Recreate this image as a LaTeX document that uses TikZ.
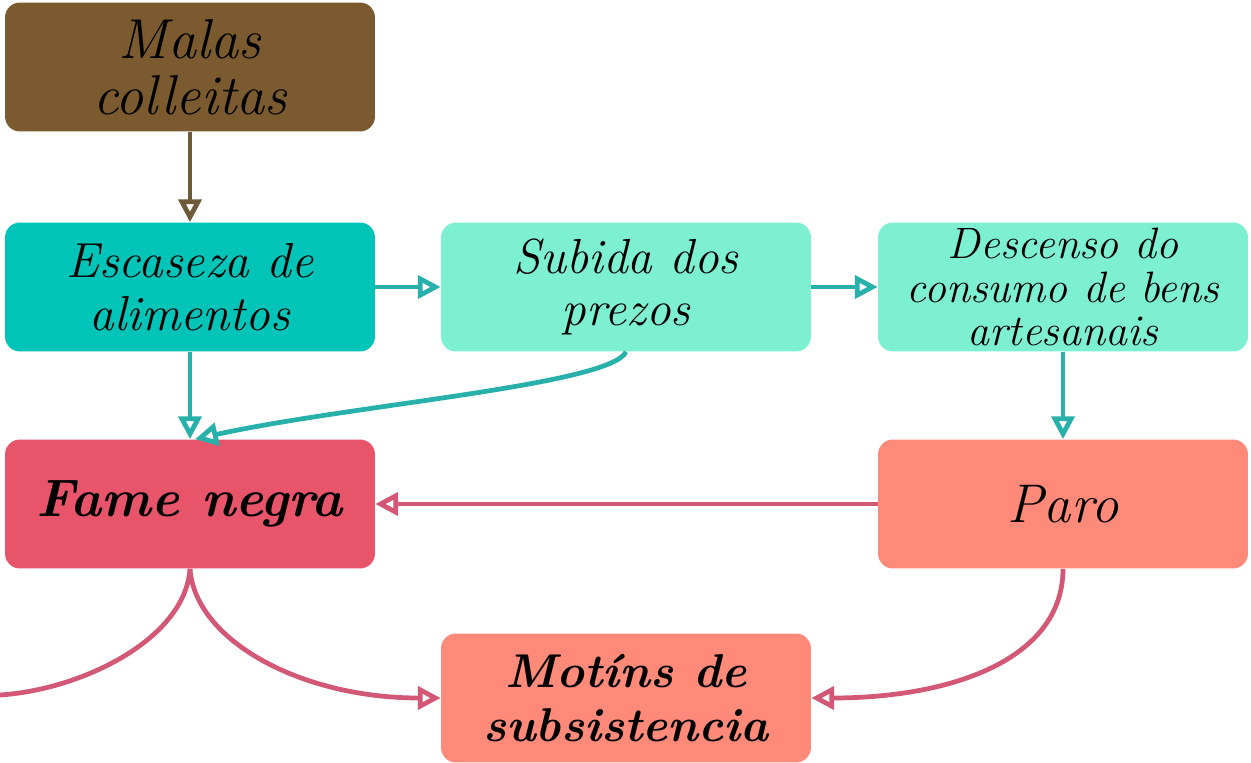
\documentclass[tikz,border=0pt]{standalone}
\usetikzlibrary{arrows.meta}
\definecolor{brownbox}{RGB}{123,90,48}
\definecolor{tealbox}{RGB}{0,196,184}
\definecolor{aquabox}{RGB}{125,240,210}
\definecolor{redbox}{RGB}{232,84,106}
\definecolor{salmonbox}{RGB}{255,138,122}
\definecolor{tealline}{RGB}{40,176,170}
\definecolor{roseline}{RGB}{210,88,118}
\definecolor{brownline}{RGB}{110,90,58}
\tikzset{>={Triangle[open,length=13pt,width=13pt]}}
\tikzset{%
    card/.style={%
        rounded corners=0.3cm,
        minimum width=7.4cm, minimum height=2.58cm,
        align=center, inner sep=0pt,
        font=\itshape\fontsize{28}{30}\selectfont
    },
    boldcard/.style={card, font=\bfseries\itshape\fontsize{28}{32}\selectfont},
    link/.style={->, line width=2.7pt}
}

\begin{document}
\begin{tikzpicture}[x=0.02cm,y=-0.02cm]
\useasboundingbox (0,0) rectangle (1251,763);

\node[card,fill=brownbox,font=\itshape\fontsize{32}{32}\selectfont] (malas) at (190,67) {Malas\\colleitas};
\node[card,fill=tealbox] (escaseza) at (190,287) {Escaseza de\\alimentos};
\node[card,fill=aquabox] (subida) at (626,287) {Subida dos\\prezos};
\node[card,fill=aquabox,font=\itshape\fontsize{25}{24.5}\selectfont] (descenso) at (1063,287) {Descenso do\\consumo de bens\\artesanais};
\node[boldcard,fill=redbox,font=\bfseries\itshape\fontsize{30}{32}\selectfont] (fame) at (190,504) {Fame negra};
\node[card,fill=salmonbox,font=\itshape\fontsize{31}{32}\selectfont] (paro) at (1063,504) {Paro};
\node[boldcard,fill=salmonbox,font=\bfseries\itshape\fontsize{27}{31}\selectfont] (motins) at (626,698) {Motíns de\\subsistencia};

\coordinate (offleft) at (0,695);

\draw[link,brownline] (malas) -- (escaseza);
\draw[link,tealline] (escaseza) -- (subida);
\draw[link,tealline] (subida) -- (descenso);
\draw[link,tealline] (escaseza) -- (fame);
\draw[link,tealline] (subida.south) .. controls (610,385) and (350,405) .. ([xshift=0.1cm]fame.north);
\draw[link,tealline] (descenso) -- (paro);
\draw[link,roseline] (paro) -- (fame);
\draw[link,roseline] (fame.south) .. controls (195,640) and (300,698) .. (motins.west);
\draw[line width=2.7pt,roseline] (fame.south) .. controls (185,640) and (80,690) .. (offleft);
\draw[link,roseline] (paro.south) .. controls (1063,660) and (950,698) .. (motins.east);
\end{tikzpicture}
\end{document}
